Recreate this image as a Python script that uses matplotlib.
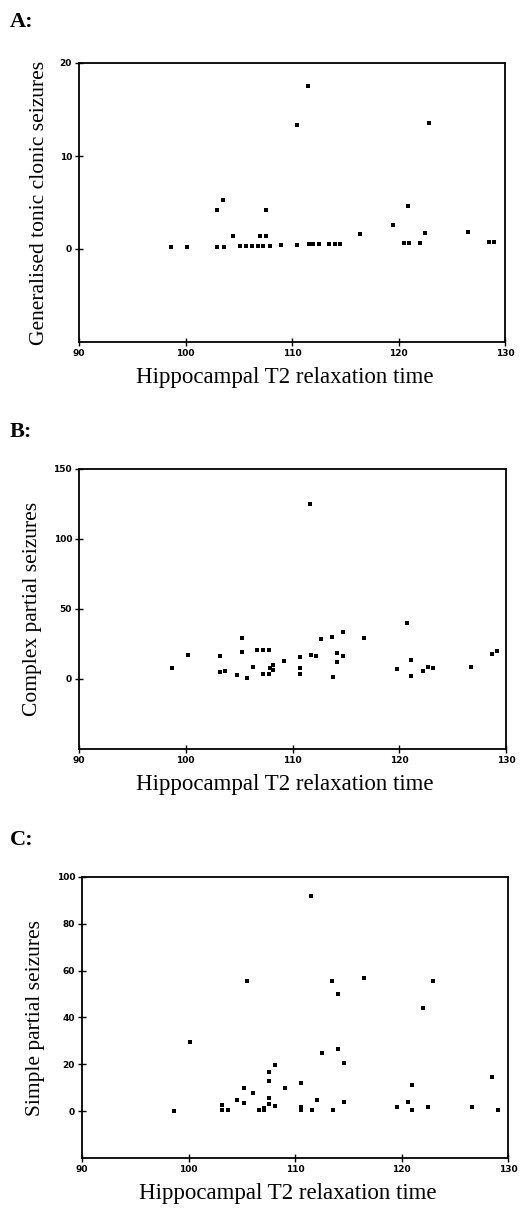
import matplotlib
matplotlib.use("Agg")
import matplotlib.pyplot as plt

# Panel A: Generalised tonic clonic seizures
a_x = [98.6, 100.1, 103.0, 103.6, 104.5, 105.1, 105.7, 106.2, 106.8, 107.3, 107.9,
       107.0, 107.6, 109.0, 110.5, 111.6, 112.0, 112.5, 113.5, 114.0, 114.5, 116.4,
       120.5, 121.0, 122.0, 122.5, 126.5, 128.5, 129.0,
       103.0, 103.5, 107.6, 110.5, 111.5, 119.5, 120.9, 122.9]
a_y = [0.2, 0.2, 0.25, 0.25, 1.35, 0.3, 0.3, 0.3, 0.3, 0.3, 0.3,
       1.35, 1.35, 0.45, 0.45, 0.5, 0.5, 0.5, 0.5, 0.5, 0.5, 1.6,
       0.65, 0.65, 0.65, 1.7, 1.8, 0.8, 0.8,
       4.2, 5.3, 4.2, 13.3, 17.5, 2.6, 4.6, 13.6]

# Panel B: Complex partial seizures
b_x = [98.7, 100.25, 103.2, 103.2, 103.7, 104.8, 105.3, 105.3, 105.7, 106.3,
       106.7, 107.2, 107.8, 107.2, 107.8, 107.9, 108.2, 108.2, 109.2,
       110.7, 110.7, 110.7, 111.7, 112.2, 111.6, 112.7, 113.7, 113.8,
       114.2, 114.2, 114.7, 114.7, 116.7, 119.75, 120.7, 121.1, 121.1,
       122.2, 122.7, 123.2, 126.7, 128.7, 129.2]
b_y = [8.1, 17.1, 16.4, 4.8, 5.5, 2.9, 19.0, 29.5, 0.9, 8.3,
       20.7, 20.7, 20.7, 3.3, 3.3, 8.0, 10.0, 6.5, 12.6,
       15.5, 7.9, 3.6, 17.1, 16.4, 124.8, 28.6, 30.2, 1.7,
       18.3, 11.9, 16.7, 33.6, 29.5, 7.1, 39.8, 13.3, 1.9,
       5.7, 8.8, 7.6, 8.8, 17.9, 20.2]

# Panel C: Simple partial seizures
c_x = [98.6, 100.1, 103.1, 103.1, 103.7, 104.6, 105.2, 105.2, 105.5, 106.1,
       106.6, 107.1, 107.1, 107.6, 107.6, 107.6, 107.6, 108.1, 108.1, 109.1,
       110.6, 110.6, 110.6, 111.5, 111.6, 112.1, 112.5, 113.5, 113.6, 114.0,
       114.0, 114.6, 114.6, 116.5, 119.6, 120.6, 121.0, 121.0, 122.0, 122.5,
       123.0, 126.6, 128.5, 129.1]
c_y = [0.0, 29.5, 2.8, 0.3, 0.3, 4.7, 9.8, 3.7, 55.8, 7.8,
       0.3, 0.5, 1.5, 16.7, 12.8, 5.8, 3.0, 19.7, 2.0, 9.8,
       11.9, 1.9, 0.6, 92.0, 0.3, 4.8, 24.7, 55.8, 0.3, 49.9,
       26.7, 20.6, 4.0, 56.8, 1.9, 4.0, 11.0, 0.3, 43.9, 1.9,
       55.8, 1.9, 14.8, 0.3]

x_ticks = [90, 100, 110, 120, 130]
panels = [
    dict(label="A:", x=a_x, y=a_y, ylim=(-10, 20), yticks=[0, 10, 20],
         ylabel="Generalised tonic clonic seizures",
         rect=[79/520, 1-342/1211, 426/520, 279/1211], ly=22),
    dict(label="B:", x=b_x, y=b_y, ylim=(-50, 150), yticks=[0, 50, 100, 150],
         ylabel="Complex partial seizures",
         rect=[79/520, 1-749/1211, 427/520, 280/1211], ly=432),
    dict(label="C:", x=c_x, y=c_y, ylim=(-20, 100), yticks=[0, 20, 40, 60, 80, 100],
         ylabel="Simple partial seizures",
         rect=[82/520, 1-1158/1211, 426/520, 281/1211], ly=840),
]

fig = plt.figure(figsize=(5.2, 12.11), dpi=100)
serif = ["Liberation Serif", "DejaVu Serif"]
for p in panels:
    ax = fig.add_axes(p["rect"])
    ax.plot(p["x"], p["y"], linestyle="none", marker="s", markersize=2.8,
            color="black", markeredgewidth=0)
    ax.set_xlim(90, 130)
    ax.set_ylim(*p["ylim"])
    ax.set_xticks(x_ticks)
    ax.set_yticks(p["yticks"])
    ax.tick_params(direction="inout", length=6, width=1.0, labelsize=6.5,
                   pad=2)
    for lab in ax.get_xticklabels() + ax.get_yticklabels():
        lab.set_fontweight("bold")
        lab.set_family("DejaVu Sans")
    for s in ax.spines.values():
        s.set_linewidth(1.3)
    ax.set_xlabel("Hippocampal T2 relaxation time", fontsize=16.5, family=serif)
    ax.xaxis.set_label_coords(0.482, -0.09)
    ax.set_ylabel(p["ylabel"], fontsize=15.5, family=serif, labelpad=8)
    fig.text(10/520, 1 - p["ly"]/1211, p["label"], fontsize=16,
             fontweight="bold", family=serif, va="center", ha="left")

fig.savefig("out.png", dpi=100)
